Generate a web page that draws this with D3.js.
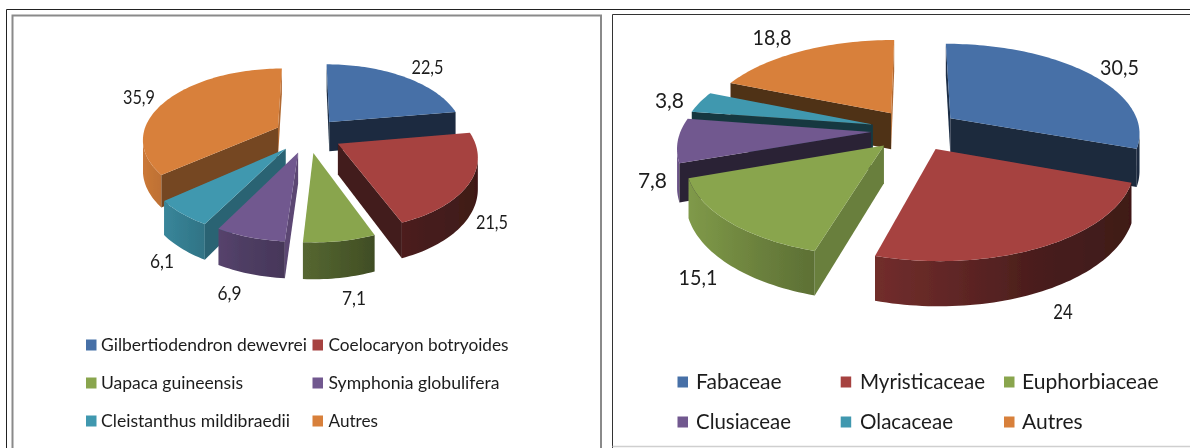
<!DOCTYPE html>
<html><head><meta charset="utf-8">
<style>html,body{margin:0;padding:0;background:#fff}svg{display:block}text{font-family:Lato,"Open Sans",sans-serif;fill:#1c1c1c}</style>
<script src="https://cdnjs.cloudflare.com/ajax/libs/d3/7.8.5/d3.min.js"></script>
</head><body><svg id="c" width="1190" height="448"></svg>
<script>
const speciesNames = ["Gilbertiodendron dewevrei","Coelocaryon botryoides","Uapaca guineensis","Symphonia globulifera","Cleistanthus mildibraedii","Autres"];
const speciesValues = [22.5,21.5,7.1,6.9,6.1,35.9];
const speciesLabels = ["22,5","21,5","7,1","6,9","6,1","35,9"];
const familyNames = ["Fabaceae","Myristicaceae","Euphorbiaceae","Clusiaceae","Olacaceae","Autres"];
const familyValues = [30.5,24,15.1,7.8,3.8,18.8];
const familyLabels = ["30,5","24","15,1","7,8","3,8","18,8"];
const colors = ["#4670a7","#a64240","#89a54e","#71588f","#4098af","#d8803b"];

// layout
const leftLayout = {id:"l",cx:308,cy:135,R:135,Ry:70,p:.15,e:.25,h:30,
  labelX:[427.5,492,354,229.5,162,139],labelY:[67,222,298,293,261,97],labelSize:20,labelCharW:8,
  swX:[86,312.5,86,312.5,86,312.5],swY:[345,345,383,383,421,421],
  textX:[101,328.5,101,328.5,101,328.5],textW:[206,180,142,171,189,49.5],textSize:18};
const rightLayout = {id:"r",cx:915,cy:130,R:190,Ry:89,p:.15,e:.232,h:37,
  labelX:[1119.5,1063,698,652.5,669.5,772],labelY:[67,311,277,180,100,37],labelSize:21.5,labelCharW:9.7,
  swX:[677.5,840.7,1004,677.5,840.7,1004],swY:[382,382,382,422,422,422],
  textX:[696,860,1022,696,860,1022],textW:[85.7,125,136.6,95,93,60.7],textSize:20.5};

const svg = d3.select("#c");
const defs = svg.append("defs");
defs.append("filter").attr("id","soft").attr("x","-5%").attr("y","-5%").attr("width","110%").attr("height","110%")
  .append("feGaussianBlur").attr("stdDeviation",.4);
const deg = d=>d*Math.PI/180;
const outerShade = d3.scaleLinear().domain([-1,-.77,-.34,0,.5,1]).range([.95,.88,.7,.6,.42,.38]).clamp(true);
const radialShade = d3.scaleLinear().domain([0,90,106,118,140,160,200,270,360]).range([.5,.82,.77,.66,.55,.38,.37,.42,.5]);
const shaded = (c,s)=>{const k=d3.rgb(c);return d3.rgb(k.r*s,k.g*s,k.b*s).formatHex();};
const line = d3.line();

function drawPie(values,labels,names,L){
  const g = svg.append("g").attr("filter","url(#soft)");
  const pie = d3.pie().sort(null).value(d=>d)(values);
  const P = (X,Y,z=0)=>{const w=1+L.p*Y;return [L.cx+L.R*X/w, L.cy-L.Ry*Y/w+z/w];};
  const slices = pie.map((a,i)=>{
    const mid=(a.startAngle+a.endAngle)/2, ox=L.e*Math.sin(mid), oy=L.e*Math.cos(mid);
    return {i,a,mid,ox,oy};
  }).sort((u,v)=>Math.cos(v.mid)-Math.cos(u.mid));
  slices.forEach(s=>{
    const col=colors[s.i], n=Math.max(3,Math.ceil((s.a.endAngle-s.a.startAngle)/deg(1.5)));
    const t=d3.scaleLinear().domain([0,n]).range([s.a.startAngle,s.a.endAngle]);
    const world=d3.range(n+1).map(j=>[s.ox+Math.sin(t(j)),s.oy+Math.cos(t(j)),t(j)]);
    const apexW=[s.ox,s.oy];
    const walls=[];
    const addWall=(A,B,fill)=>{
      const a0=P(A[0],A[1]),b0=P(B[0],B[1]);
      if(b0[0]<a0[0]) walls.push({pts:[a0,b0,P(B[0],B[1],L.h),P(A[0],A[1],L.h)],fill});
    };
    const sa=s.a.startAngle/deg(1), ea=s.a.endAngle/deg(1);
    addWall(apexW,world[0],shaded(col,radialShade(((sa-90)%360+360)%360)));
    addWall(world[n],apexW,shaded(col,radialShade((ea+90)%360)));
    // outer wall: one polygon per visible run, filled with a horizontal gradient
    const vis=world.filter((w,j)=>{
      if(j===n) return P(world[j-1][0],world[j-1][1])[0]>P(w[0],w[1])[0];
      return P(w[0],w[1])[0]>P(world[j+1][0],world[j+1][1])[0];
    });
    const sg=g.append("g");
    if(vis.length>1){
      const top=vis.map(w=>P(w[0],w[1])), bot=vis.map(w=>P(w[0],w[1],L.h)).reverse();
      const id=`grad-${L.id}-${s.i}`;
      const x0=top[0][0], x1=top[top.length-1][0];
      const gr=defs.append("linearGradient").attr("id",id).attr("gradientUnits","userSpaceOnUse")
        .attr("x1",x0).attr("x2",x1).attr("y1",0).attr("y2",0);
      gr.selectAll("stop").data(vis).join("stop")
        .attr("offset",(w,j)=>(top[j][0]-x0)/(x1-x0))
        .attr("stop-color",w=>shaded(col,outerShade(Math.sin(w[2]))));
      sg.append("path").attr("d",line([...top,...bot])+"Z").attr("fill",`url(#${id})`);
    }
    sg.selectAll("path.w").data(walls).join("path").attr("class","w")
      .attr("d",d=>line(d.pts)+"Z").attr("fill",d=>d.fill);
    sg.append("path").attr("d",line([P(apexW[0],apexW[1]),...world.map(w=>P(w[0],w[1]))])+"Z").attr("fill",col);
  });
  svg.append("g").attr("filter","url(#soft)").selectAll("text").data(labels).join("text")
    .attr("x",(d,i)=>L.labelX[i]).attr("y",(d,i)=>L.labelY[i]).attr("dy",".36em")
    .attr("text-anchor","middle").attr("font-size",L.labelSize)
    .attr("textLength",d=>d.length*L.labelCharW).attr("lengthAdjust","spacingAndGlyphs").text(d=>d);
  const lg=svg.append("g").attr("filter","url(#soft)");
  lg.selectAll("rect").data(names).join("rect")
    .attr("x",(d,i)=>L.swX[i]).attr("y",(d,i)=>L.swY[i]-5.5).attr("width",10.5).attr("height",11)
    .attr("fill",(d,i)=>colors[i]);
  lg.selectAll("text").data(names).join("text")
    .attr("x",(d,i)=>L.textX[i]).attr("y",(d,i)=>L.swY[i]).attr("dy",".34em")
    .attr("font-size",L.textSize).attr("textLength",(d,i)=>L.textW[i]).attr("lengthAdjust","spacingAndGlyphs").text(d=>d);
}

// frames
const fr=svg.append("g").attr("fill","none");
fr.append("path").attr("d","M6.5,448V9.5H1190").attr("stroke","#222").attr("stroke-width",1);
fr.append("path").attr("d","M12.5,448V15.5H601V448").attr("stroke","#8a8a8a").attr("stroke-width",2);
fr.append("path").attr("d","M612.5,448V14.5H1190").attr("stroke","#333").attr("stroke-width",1);
fr.append("path").attr("d","M612.5,446.5H1190").attr("stroke","#cfcfcf").attr("stroke-width",1.5);

drawPie(speciesValues,speciesLabels,speciesNames,leftLayout);
drawPie(familyValues,familyLabels,familyNames,rightLayout);
</script></body></html>
